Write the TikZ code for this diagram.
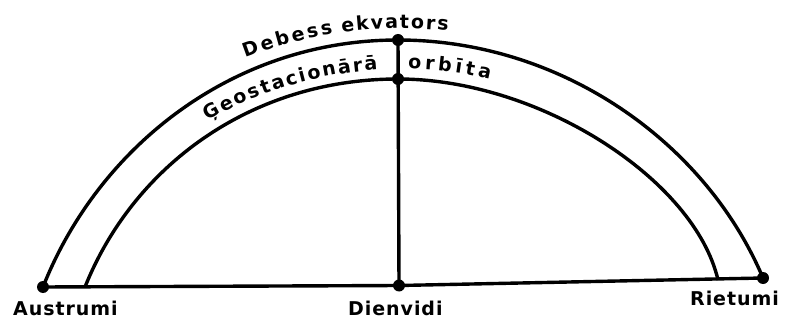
\documentclass[tikz,border=0pt]{standalone}
\usepackage{fontspec}
\usetikzlibrary{decorations.text}
\newfontfamily\letr{DejaVu Sans}
\newcommand{\uzraksts}{\letr\bfseries\fontsize{19pt}{22pt}\selectfont}
\tikzset{
  punkts/.style={circle,fill=black,inner sep=0pt,minimum size=12pt},
  vads/.style={line width=3.4pt},
  virsraksts/.style={decorate,decoration={text along path,text align={fit to path},text={|\uzraksts|#1}}},
  vieta/.style={anchor=base west,inner sep=0pt,font=\uzraksts\addfontfeature{LetterSpace=5}}
}
\begin{document}
\begin{tikzpicture}[x=1pt,y=1pt]
\useasboundingbox (0,0) rectangle (786,-320);

\node[punkts] (austrumi) at (43,-287) {};
\node[punkts] (dienvidi) at (399,-285.5) {};
\node[punkts] (rietumi) at (763,-278) {};
\node[punkts] (ekv) at (398,-40) {};
\node[punkts] (orb) at (398,-79) {};

\draw[vads] (austrumi.center) -- (dienvidi.center) -- (rietumi.center);
\draw[vads] (ekv.center) -- (dienvidi.center);

\draw[vads] (austrumi.center) .. controls (97,-150) and (230,-40) .. (ekv.center)
  .. controls (560,-40) and (705,-141) .. (rietumi.center);
\draw[vads] (85,-287) .. controls (133,-167) and (250,-79) .. (orb.center)
  .. controls (540,-79) and (695,-180) .. (718,-280);

\path[virsraksts={Debess}] (402,-470) ++(110.8:441.5) arc[start angle=110.8,end angle=99,radius=441.5];
\path[virsraksts={ekvators}] (402,-470) ++(97.8:441.5) arc[start angle=97.8,end angle=84,radius=441.5];
\path[virsraksts={Ģeostacionārā}] (402,-457) ++(120:388) arc[start angle=120,end angle=93.6,radius=388];
\path[virsraksts={orbīta}] (402,-457) ++(89.1:388) arc[start angle=89.1,end angle=76.9,radius=388];

\node[vieta] (austr) at (13,-315.5) {Austrumi};
\node[vieta] (dienv) at (348,-315) {Dienvidi};
\node[vieta] (riet) at (690,-305) {Rietumi};
\end{tikzpicture}
\end{document}
